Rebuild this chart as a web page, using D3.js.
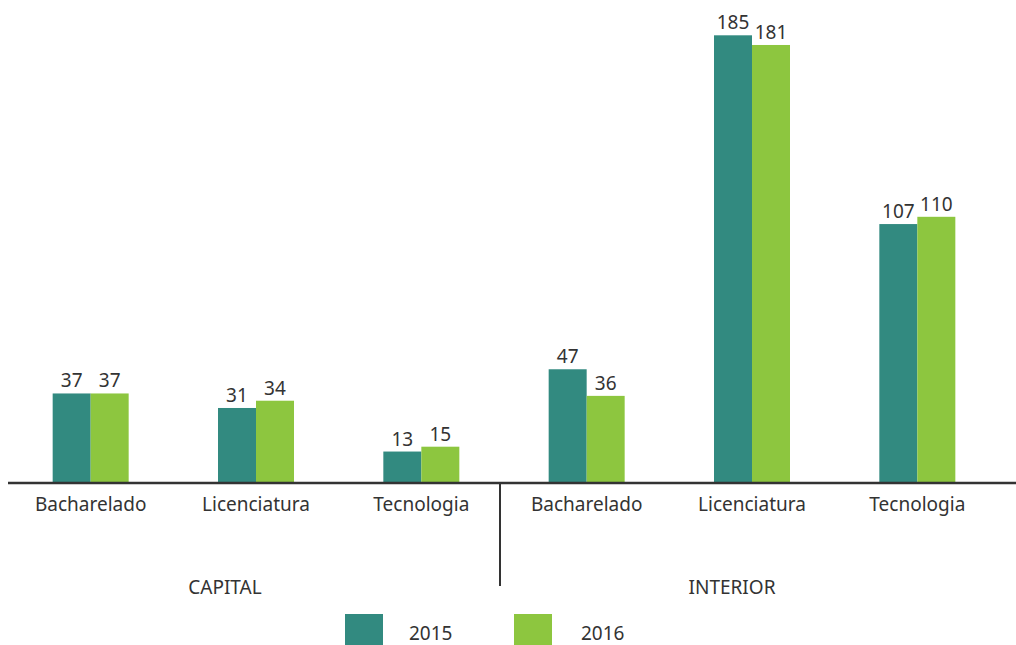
<!DOCTYPE html>
<html>
<head>
<meta charset="utf-8">
<script src="https://cdn.jsdelivr.net/npm/d3@7"></script>
<style>
  body { margin: 0; background: #fff; }
  svg { display: block; font-family: "Noto Sans", "Open Sans", sans-serif; }
</style>
</head>
<body>
<div id="chart"></div>
<script>
const regions = ["CAPITAL", "INTERIOR"];
const courses = ["Bacharelado", "Licenciatura", "Tecnologia"];
const years = ["2015", "2016"];
const values2015 = [37, 31, 13, 47, 185, 107];
const values2016 = [37, 34, 15, 36, 181, 110];
const colors = ["#328a80", "#8dc63f"];

const width = 1016;
const height = 645;
const baseY = 483;

const groups = regions.flatMap(r => courses.map(c => r + "|" + c));
const rows = groups.map((g, i) => ({ key: g, vals: [values2015[i], values2016[i]] }));

const svg = d3.select("#chart")
    .append("svg")
    .attr("width", width)
    .attr("height", height);

const x0 = d3.scaleBand()
    .domain(groups)
    .range([8, 1000])
    .paddingInner(0)
    .paddingOuter(0);

const x1 = d3.scaleBand()
    .domain(years)
    .range([x0.bandwidth() / 2 - 38, x0.bandwidth() / 2 + 38]);

const y = d3.scaleLinear()
    .domain([0, 200])
    .range([baseY, baseY - 484]);

const g = svg.selectAll(".grp")
    .data(rows)
    .enter()
    .append("g")
    .attr("class", "grp")
    .attr("transform", d => `translate(${x0(d.key)},0)`);

g.selectAll("rect")
    .data(d => d.vals.map((v, i) => ({ year: years[i], v, i })))
    .enter()
    .append("rect")
    .attr("x", d => x1(d.year))
    .attr("width", x1.bandwidth())
    .attr("y", d => y(d.v))
    .attr("height", d => baseY - y(d.v))
    .attr("fill", d => colors[d.i]);

g.selectAll("text.val")
    .data(d => d.vals.map((v, i) => ({ year: years[i], v, i })))
    .enter()
    .append("text")
    .attr("class", "val")
    .attr("x", d => x1(d.year) + x1.bandwidth() / 2)
    .attr("y", d => y(d.v) - 6)
    .attr("text-anchor", "middle")
    .style("font-size", "19px")
    .style("fill", "#333")
    .text(d => d.v);

// category labels
g.append("text")
    .attr("x", x0.bandwidth() / 2)
    .attr("y", 511)
    .attr("text-anchor", "middle")
    .style("font-size", "19px")
    .style("fill", "#333")
    .text(d => d.key.split("|")[1]);

// baseline
svg.append("line")
    .attr("x1", 8).attr("x2", width)
    .attr("y1", baseY).attr("y2", baseY)
    .attr("stroke", "#333")
    .attr("stroke-width", 2.5);

// region divider
const mid = x0(groups[3]) - 4;
svg.append("line")
    .attr("x1", mid).attr("x2", mid)
    .attr("y1", baseY).attr("y2", 586)
    .attr("stroke", "#333")
    .attr("stroke-width", 2);

// region labels
regions.forEach((r, i) => {
    const first = x0(groups[i * 3]);
    const last = x0(groups[i * 3 + 2]) + x0.bandwidth();
    svg.append("text")
        .attr("x", (first + last) / 2 - 20 - (i === 0 ? 11 : 0))
        .attr("y", 594)
        .attr("text-anchor", "middle")
        .style("font-size", "19px")
        .style("fill", "#333")
        .text(r);
});

// legend
const legend = svg.selectAll(".leg")
    .data(years)
    .enter()
    .append("g")
    .attr("class", "leg")
    .attr("transform", (d, i) => `translate(${345 + i * 169},614)`);

legend.append("rect")
    .attr("width", 38)
    .attr("height", 31)
    .attr("fill", (d, i) => colors[i]);

legend.append("text")
    .attr("x", (d, i) => 64 + i * 3)
    .attr("y", 26)
    .style("font-size", "19px")
    .style("fill", "#333")
    .text(d => d);
</script>
</body>
</html>
